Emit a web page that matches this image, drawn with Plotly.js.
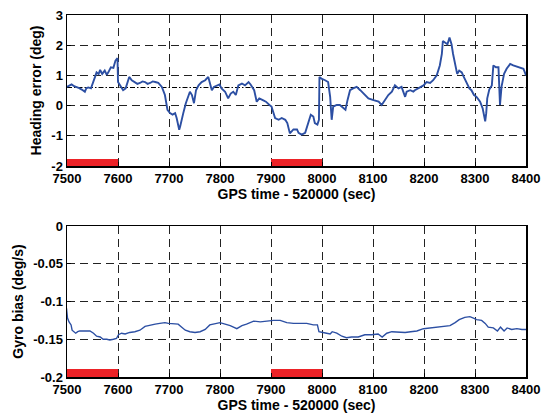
<!DOCTYPE html>
<html>
<head>
<meta charset="utf-8">
<script src="https://cdn.plot.ly/plotly-3.0.1.min.js"></script>
<style>html,body{margin:0;padding:0;background:#fff;}#chart{width:544px;height:415px;}</style>
</head>
<body>
<div id="chart"></div>
<script>
// ---- Data ----
const tHead = [7500,7505,7509,7514,7519,7524,7529,7535,7538,7542,7547,7552,7555,7558,7562,7565,7569,7574,7578,7581,7586,7591,7595,7599,7600,7604,7607,7610,7615,7622,7627,7633,7638,7643,7648,7653,7658,7663,7668,7673,7679,7686,7692,7697,7702,7707,7712,7715,7720,7722,7725,7728,7733,7738,7741,7745,7749,7753,7758,7764,7771,7777,7780,7784,7788,7794,7799,7803,7810,7816,7821,7826,7831,7836,7843,7849,7856,7860,7867,7872,7877,7884,7890,7897,7901,7908,7915,7921,7928,7932,7937,7944,7951,7954,7960,7967,7970,7973,7978,7983,7986,7991,7994,7995,7999,8006,8012,8016,8019,8022,8029,8035,8042,8046,8050,8055,8061,8068,8075,8084,8091,8101,8111,8117,8124,8130,8137,8143,8150,8156,8163,8166,8173,8179,8182,8192,8199,8205,8212,8218,8225,8231,8235,8237,8241,8246,8250,8254,8257,8262,8265,8269,8274,8278,8284,8289,8293,8298,8303,8310,8315,8320,8322,8324,8328,8333,8336,8341,8346,8349,8352,8357,8362,8369,8375,8382,8388,8395,8400];
const headErr = [0.62,0.66,0.7,0.64,0.62,0.58,0.53,0.46,0.58,0.6,0.57,0.78,0.95,1.1,1.05,1.18,1.05,1.16,1.02,1.1,1.27,1.25,1.49,1.57,0.78,0.67,0.58,0.51,0.57,0.95,0.84,0.78,0.72,0.75,0.8,0.78,0.72,0.75,0.8,0.78,0.75,0.62,0.35,-0.14,-0.25,-0.3,-0.25,-0.41,-0.8,-0.68,-0.5,-0.25,0.08,0.35,0.46,0.35,0.08,0.51,0.67,0.78,0.84,0.95,0.78,0.51,0.62,0.67,0.7,0.57,0.46,0.24,0.4,0.46,0.35,0.67,0.73,0.67,0.78,0.7,0.51,0.13,0.24,0.18,0.13,0.02,-0.03,-0.41,-0.47,-0.41,-0.47,-0.58,-0.92,-0.79,-0.79,-0.9,-0.96,-0.9,-0.74,-0.52,-0.3,-0.36,-0.58,-0.63,-0.47,0.95,0.89,0.84,0.78,0.29,-0.47,-0.03,0.02,0.02,-0.09,-0.14,0.18,0.51,0.57,0.62,0.51,0.35,0.24,0.18,0.13,0.02,0.18,0.35,0.46,0.67,0.57,0.62,0.29,0.46,0.51,0.46,0.51,0.6,0.67,0.78,0.75,0.84,1.0,1.33,1.71,2.14,2.09,2.03,2.25,2.03,1.71,1.33,1.05,1.16,1.1,0.95,0.73,0.57,0.51,0.35,0.29,0.13,-0.09,-0.52,-0.25,0.24,0.53,0.67,1.33,1.27,1.27,0.02,0.62,1.05,1.22,1.38,1.33,1.29,1.27,1.22,1.0];

const tGyro = [7499,7501,7504,7508,7510,7514,7517,7521,7525,7535,7545,7552,7558,7565,7571,7578,7584,7591,7597,7601,7607,7614,7623,7633,7643,7653,7663,7673,7682,7692,7699,7709,7718,7725,7732,7741,7751,7761,7771,7780,7790,7800,7810,7820,7833,7843,7852,7866,7879,7892,7905,7918,7931,7944,7956,7970,7983,7991,7994,7999,8009,8016,8020,8029,8039,8048,8058,8071,8084,8097,8110,8118,8127,8137,8150,8163,8174,8186,8199,8212,8225,8238,8251,8261,8269,8280,8290,8297,8303,8313,8320,8326,8336,8344,8350,8357,8363,8372,8382,8392,8400];
const gyroBias = [-0.109,-0.122,-0.127,-0.131,-0.138,-0.140,-0.142,-0.140,-0.139,-0.139,-0.139,-0.142,-0.146,-0.147,-0.150,-0.150,-0.151,-0.150,-0.149,-0.144,-0.142,-0.143,-0.141,-0.140,-0.138,-0.133,-0.131,-0.130,-0.129,-0.128,-0.129,-0.130,-0.130,-0.134,-0.138,-0.140,-0.141,-0.140,-0.137,-0.131,-0.130,-0.128,-0.130,-0.132,-0.136,-0.132,-0.130,-0.126,-0.127,-0.126,-0.125,-0.125,-0.128,-0.129,-0.129,-0.129,-0.131,-0.131,-0.140,-0.141,-0.142,-0.143,-0.140,-0.142,-0.146,-0.148,-0.147,-0.147,-0.144,-0.144,-0.143,-0.147,-0.142,-0.140,-0.141,-0.141,-0.140,-0.139,-0.136,-0.135,-0.134,-0.133,-0.132,-0.128,-0.124,-0.121,-0.120,-0.122,-0.124,-0.125,-0.129,-0.134,-0.135,-0.139,-0.134,-0.139,-0.135,-0.137,-0.136,-0.137,-0.137];

const refLevel = 0.6;                 // dash-dot reference line (deg)
const outageStart = [7500, 7900];      // red bars
const outageEnd = [7600, 8000];
const outageHeadHeight = 0.22;
const outageGyroHeight = 0.011;

const xRange = [7500, 8400];
const xTicks = [7500,7600,7700,7800,7900,8000,8100,8200,8300,8400];
const xTickText = ['7500','7600','7700','7800','7900','8000','8100','8200','8300','8400'];
const yHeadRange = [-2, 3];
const yHeadTicks = [-2,-1,0,1,2,3];
const yHeadText = ['-2','-1','0','1','2','3'];
const yGyroRange = [-0.2, 0];
const yGyroTicks = [-0.2,-0.15,-0.1,-0.05,0];
const yGyroText = ['-0.2','-0.15','-0.1','-0.05','0'];

const xTitle = 'GPS time - 520000 (sec)';
const yHeadTitle = 'Heading error (deg)';
const yGyroTitle = 'Gyro bias (deg/s)';

// ---- Styles ----
const BLUE = '#2c4fa3';
const RED = '#ec2227';
const FAM = 'Liberation Sans, Arial, sans-serif';
const TICKFONT = {family: FAM, size: 13, color: '#000', weight: 'bold'};
const TITLEFONT = {family: FAM, size: 14, color: '#000', weight: 'bold'};
const gridDash = '8px,5px';

const mids = outageStart.map((s,i)=>(s+outageEnd[i])/2);
const widths = outageStart.map((s,i)=>outageEnd[i]-s);

const traces = [
  {type:'bar', x:mids, width:widths, y:mids.map(()=>outageHeadHeight), base:mids.map(()=>yHeadRange[0]),
   marker:{color:RED, line:{width:0}}, xaxis:'x', yaxis:'y', hoverinfo:'skip'},
  {type:'scatter', mode:'lines', x:xRange, y:xRange.map(()=>refLevel),
   line:{color:'#000', width:1.1, dash:'5px,2px,1.5px,2px'}, xaxis:'x', yaxis:'y'},
  {type:'scatter', mode:'lines', x:tHead, y:headErr, line:{color:BLUE, width:1.9}, xaxis:'x', yaxis:'y'},
  {type:'bar', x:mids, width:widths, y:mids.map(()=>outageGyroHeight), base:mids.map(()=>yGyroRange[0]),
   marker:{color:RED, line:{width:0}}, xaxis:'x2', yaxis:'y2', hoverinfo:'skip'},
  {type:'scatter', mode:'lines', x:tGyro, y:gyroBias, line:{color:BLUE, width:1.4}, xaxis:'x2', yaxis:'y2'}
];

function xAxis(anchor){
  return {domain:[67/544, 526/544], range:xRange, anchor:anchor, tickvals:xTicks, ticktext:xTickText,
    showgrid:true, gridcolor:'#222', gridwidth:1, griddash:gridDash, zeroline:false,
    showline:true, linecolor:'#000', linewidth:1.5, mirror:true,
    ticks:'inside', ticklen:4, tickcolor:'#000', tickfont:TICKFONT,
    title:{text:xTitle, font:TITLEFONT, standoff:3}, automargin:false};
}
function yAxis(anchor, dom, rng, tv, tt, title){
  return {domain:dom, range:rng, anchor:anchor, tickvals:tv, ticktext:tt,
    showgrid:true, gridcolor:'#222', gridwidth:1, griddash:gridDash, zeroline:false,
    showline:true, linecolor:'#000', linewidth:1.5, mirror:true,
    ticks:'inside', ticklen:4, tickcolor:'#000', tickfont:TICKFONT,
    title:{text:title, font:TITLEFONT, standoff:6}, automargin:false};
}

const layout = {
  width:544, height:415, showlegend:false, bargap:0,
  margin:{l:0, r:0, t:0, b:0},
  paper_bgcolor:'#fff', plot_bgcolor:'#fff',
  xaxis: xAxis('y'),
  yaxis: yAxis('x', [249/415, 400/415], yHeadRange, yHeadTicks, yHeadText, yHeadTitle),
  xaxis2: xAxis('y2'),
  yaxis2: yAxis('x2', [38/415, 189/415], yGyroRange, yGyroTicks, yGyroText, yGyroTitle)
};

Plotly.newPlot('chart', traces, layout, {staticPlot:true, displayModeBar:false});
</script>
</body>
</html>
